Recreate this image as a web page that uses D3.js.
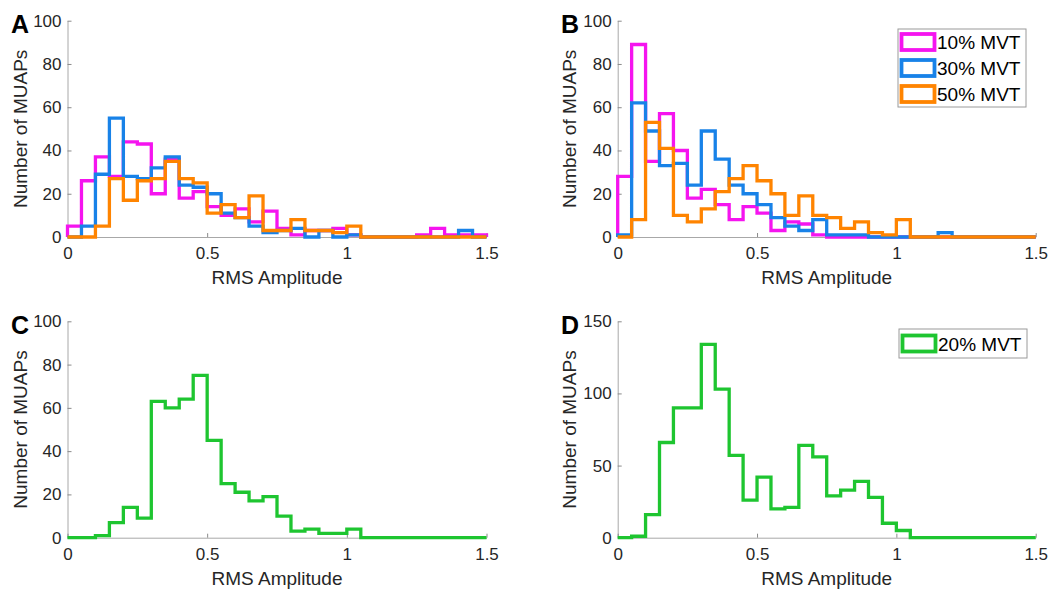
<!DOCTYPE html>
<html>
<head>
<meta charset="utf-8">
<script src="https://cdn.jsdelivr.net/npm/d3@7"></script>
<style>
  html, body { margin: 0; padding: 0; background: #fff; }
  svg { display: block; }
  text { font-family: "Liberation Sans", Arial, Helvetica, sans-serif; }
</style>
</head>
<body>
<svg id="fig" width="1051" height="591"></svg>
<script>
// Histogram bin edges (RMS amplitude)
const binEdges = [0, 0.05, 0.1, 0.15, 0.2, 0.25, 0.3, 0.35, 0.4, 0.45, 0.5,
                  0.55, 0.6, 0.65, 0.7, 0.75, 0.8, 0.85, 0.9, 0.95, 1.0,
                  1.05, 1.1, 1.15, 1.2, 1.25, 1.3, 1.35, 1.4, 1.45, 1.5];

// Counts per bin, panel A
const countsA10 = [5, 26, 37, 28, 44, 43, 20, 36, 18, 21, 14, 10, 13, 7, 12, 4, 1, 3, 3, 4, 1, 0, 0, 0, 0, 1, 4, 1, 1, 1];
const countsA30 = [0, 5, 29, 55, 28, 27, 32, 37, 24, 23, 20, 11, 9, 5, 2, 3, 4, 0, 3, 0, 1, 0, 0, 0, 0, 0, 0, 0, 3, 0];
const countsA50 = [0, 0, 5, 27, 17, 26, 27, 35, 27, 25, 11, 15, 9, 19, 3, 3, 8, 3, 3, 2, 5, 0, 0, 0, 0, 0, 0, 0, 0, 0];

// Counts per bin, panel B
const countsB10 = [28, 89, 35, 57, 40, 18, 22, 15, 8, 14, 11, 3, 7, 6, 1, 0, 0, 0, 0, 0, 0, 0, 0, 0, 0, 0, 0, 0, 0, 0];
const countsB30 = [1, 62, 49, 33, 34, 24, 49, 36, 24, 20, 15, 9, 5, 3, 8, 1, 1, 1, 0, 0, 0, 0, 0, 2, 0, 0, 0, 0, 0, 0];
const countsB50 = [0, 8, 53, 41, 10, 7, 13, 21, 27, 33, 26, 20, 10, 19, 10, 9, 4, 7, 2, 1, 8, 0, 0, 0, 0, 0, 0, 0, 0, 0];

// Counts per bin, panels C and D (20% MVT)
const countsC20 = [0, 0, 1, 7, 14, 9, 63, 60, 64, 75, 45, 25, 21, 17, 19, 10, 3, 4, 2, 2, 4, 0, 0, 0, 0, 0, 0, 0, 0, 0];
const countsD20 = [0, 1, 16, 66, 90, 90, 134, 103, 57, 26, 42, 20, 21, 64, 56, 29, 33, 39, 28, 10, 5, 0, 0, 0, 0, 0, 0, 0, 0, 0];

// Axis ticks and labels
const xTicks = [0, 0.5, 1, 1.5];
const xTickLabels = ["0", "0.5", "1", "1.5"];
const yTicks100 = [0, 20, 40, 60, 80, 100];
const yTicks150 = [0, 50, 100, 150];
const seriesNames = ["10% MVT", "30% MVT", "50% MVT"];
const greenName = "20% MVT";
const xLabel = "RMS Amplitude";
const yLabel = "Number of MUAPs";

const colors = { c10: "#f514ef", c30: "#1882e8", c50: "#ff8400", c20: "#1ec530" };

const svg = d3.select("#fig");
svg.append("rect").attr("width", 1051).attr("height", 591).attr("fill", "#fff");

const panels = [
  { letter: "A", left: 67.5, right: 486.5, top: 20.7, bottom: 237, yMax: 100, yTicks: yTicks100,
    series: [[countsA10, colors.c10], [countsA30, colors.c30], [countsA50, colors.c50]], legend: null,
    letterX: 11, ylabX: 20 },
  { letter: "B", left: 617.7, right: 1035.7, top: 20.7, bottom: 237, yMax: 100, yTicks: yTicks100,
    series: [[countsB10, colors.c10], [countsB30, colors.c30], [countsB50, colors.c50]],
    legend: { x: 898, y: 29, w: 128, h: 78, items: [[seriesNames[0], colors.c10], [seriesNames[1], colors.c30], [seriesNames[2], colors.c50]] },
    letterX: 561, ylabX: 569 },
  { letter: "C", left: 67.5, right: 486.5, top: 321.3, bottom: 537.7, yMax: 100, yTicks: yTicks100,
    series: [[countsC20, colors.c20]], legend: null, letterX: 11, ylabX: 20 },
  { letter: "D", left: 617.7, right: 1035.7, top: 321.3, bottom: 537.7, yMax: 150, yTicks: yTicks150,
    series: [[countsD20, colors.c20]],
    legend: { x: 899, y: 329, w: 128, h: 29, items: [[greenName, colors.c20]] },
    letterX: 561, ylabX: 569 }
];

panels.forEach(p => {
  const g = svg.append("g");
  const x = d3.scaleLinear().domain([0, 1.5]).range([p.left, p.right]);
  const y = d3.scaleLinear().domain([0, p.yMax]).range([p.bottom, p.top]);

  // axes (ticks point inward)
  const yAxis = d3.axisLeft(y).tickValues(p.yTicks).tickSizeInner(-4).tickSizeOuter(0).tickPadding(6);
  const xAxis = d3.axisBottom(x).tickValues(xTicks).tickFormat((d, i) => xTickLabels[i])
    .tickSizeInner(-4).tickSizeOuter(0).tickPadding(10);

  const ga = g.append("g").attr("transform", `translate(${p.left},0)`).call(yAxis);
  const gb = g.append("g").attr("transform", `translate(0,${p.bottom})`).call(xAxis);
  [ga, gb].forEach(a => {
    a.select(".domain").attr("stroke", "#a8a8a8").attr("stroke-width", 1);
    a.selectAll(".tick line").attr("stroke", "#8a8a8a").attr("stroke-width", 1);
    a.selectAll(".tick text").attr("fill", "#262626").style("font-size", "17px")
      .style("font-family", "'Liberation Sans', Arial, sans-serif");
  });

  // stair-step histogram outlines
  const line = d3.line().x(d => x(d[0])).y(d => y(d[1])).curve(d3.curveStepAfter);
  p.series.forEach(([counts, color]) => {
    const pts = [[binEdges[0], 0]];
    counts.forEach((c, i) => pts.push([binEdges[i], c]));
    pts.push([binEdges[binEdges.length - 1], counts[counts.length - 1]]);
    pts.push([binEdges[binEdges.length - 1], 0]);
    g.append("path").datum(pts).attr("d", line)
      .attr("fill", "none").attr("stroke", color).attr("stroke-width", 3.3)
      .attr("stroke-linejoin", "miter");
  });

  // axis labels
  g.append("text").attr("x", (p.left + p.right) / 2).attr("y", p.bottom + 47)
    .attr("text-anchor", "middle").attr("fill", "#262626").style("font-size", "19px").text(xLabel);
  g.append("text").attr("transform", `translate(${p.ylabX + 7},${(p.top + p.bottom) / 2}) rotate(-90)`)
    .attr("text-anchor", "middle").attr("fill", "#262626").style("font-size", "19px").text(yLabel);

  // panel letter
  g.append("text").attr("x", p.letterX).attr("y", p.top + 12.5)
    .attr("fill", "#000").style("font-size", "25px").style("font-weight", "bold").text(p.letter);

  // legend
  if (p.legend) {
    const L = p.legend;
    const lg = g.append("g");
    lg.append("rect").attr("x", L.x).attr("y", L.y).attr("width", L.w).attr("height", L.h)
      .attr("fill", "#fff").attr("stroke", "#9a9a9a").attr("stroke-width", 1);
    const rowH = L.h / L.items.length;
    L.items.forEach(([name, color], i) => {
      const cy = L.y + rowH * (i + 0.5);
      lg.append("rect").attr("x", L.x + 3.5).attr("y", cy - 8).attr("width", 33).attr("height", 16)
        .attr("fill", "#fff").attr("stroke", color).attr("stroke-width", 3.8);
      lg.append("text").attr("x", L.x + 39).attr("y", cy + 7)
        .attr("fill", "#000").style("font-size", "19px").text(name);
    });
  }
});
</script>
</body>
</html>
